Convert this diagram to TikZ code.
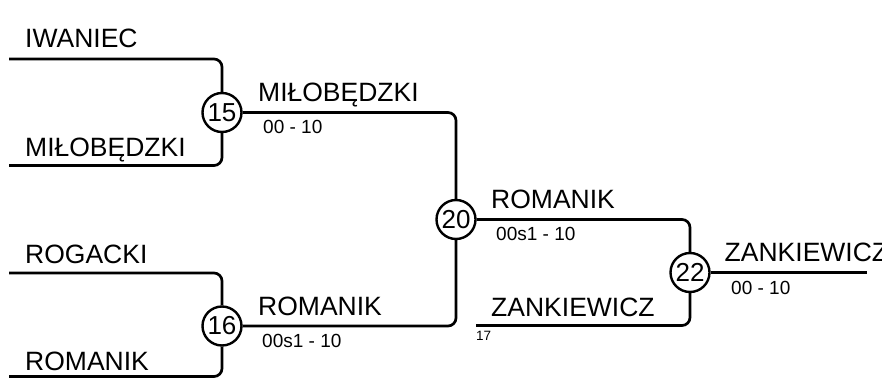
\documentclass[tikz,border=0pt]{standalone}
\usepackage{fontspec}
\setmainfont{Liberation Sans}
\begin{document}
\begin{tikzpicture}[x=1pt,y=-1pt,
  bline/.style={line width=2.7pt,rounded corners=8pt},
  match/.style={circle,draw,line width=2.4pt,minimum size=39pt,inner sep=0pt,font=\fontsize{26}{28}\selectfont},
  pname/.style={anchor=base west,inner sep=0pt,font=\fontsize{26.5}{30}\selectfont},
  pscore/.style={anchor=base west,inner sep=0pt,font=\fontsize{19}{22}\selectfont},
  pseed/.style={anchor=base west,inner sep=0pt,font=\fontsize{13.5}{16}\selectfont}]
\useasboundingbox (0,0) rectangle (882,382);
% matches
\node[match] (m15) at (222,112.5) {15};
\node[match] (m16) at (222,326) {16};
\node[match] (m20) at (456,219.5) {20};
\node[match] (m22) at (690,272.5) {22};
% free ends
\coordinate (s1) at (9,59);
\coordinate (s2) at (9,165.5);
\coordinate (s3) at (9,273);
\coordinate (s4) at (9,376.5);
\coordinate (s17) at (476,325.5);
\coordinate (fin) at (867,272.5);
% connectors
\draw[bline] (s1) -| (m15);
\draw[bline] (s2) -| (m15);
\draw[bline] (s3) -| (m16);
\draw[bline] (s4) -| (m16);
\draw[bline] (m15) -| (m20);
\draw[bline] (m16) -| (m20);
\draw[bline] (m20) -| (m22);
\draw[bline] (s17) -| (m22);
\draw[bline] (m22) -- (fin);
% names
\node[pname] (n1) at (25,48) {IWANIEC};
\node[pname] (n2) at (25,157) {MIŁOBĘDZKI};
\node[pname] (n3) at (25,263) {ROGACKI};
\node[pname] (n4) at (25,370) {ROMANIK};
\node[pname] (w15) at (258,101.5) {MIŁOBĘDZKI};
\node[pname] (w16) at (258,315) {ROMANIK};
\node[pname] (w20) at (491,208.3) {ROMANIK};
\node[pname] (n17) at (491,316.5) {ZANKIEWICZ};
\node[pname] (w22) at (724.5,261) {ZANKIEWICZ};
% scores
\node[pscore] (r15) at (263,133.3) {00 - 10};
\node[pscore] (r16) at (262,347) {00s1 - 10};
\node[pscore] (r20) at (496,240.5) {00s1 - 10};
\node[pscore] (r22) at (731,294) {00 - 10};
\node[pseed] (k17) at (476,340.7) {17};
\end{tikzpicture}
\end{document}
